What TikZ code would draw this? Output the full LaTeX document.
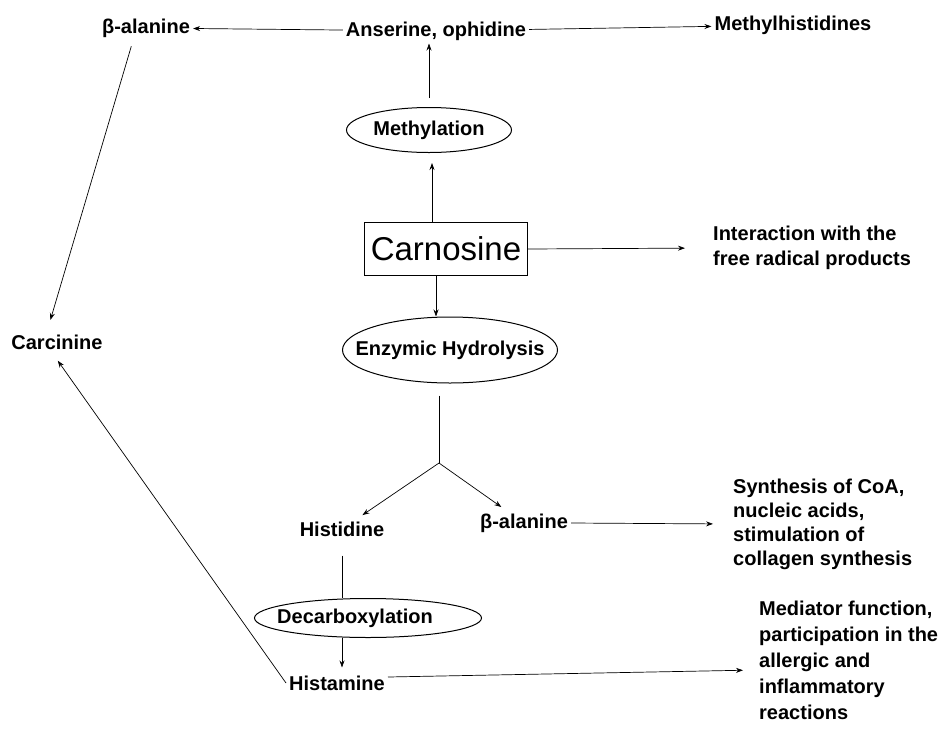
\documentclass[tikz,border=0pt]{standalone}
\usepackage{fontspec}
\setmainfont{Liberation Sans}
\usepackage{tikz}
\usetikzlibrary{arrows.meta,shapes.geometric}

\begin{document}
\begin{tikzpicture}[x=1pt,y=-1pt,
	every node/.style={font=\bfseries\fontsize{20}{24}\selectfont,inner sep=3pt},
	oval/.style={ellipse,draw,line width=1pt,inner sep=0pt},
	box/.style={rectangle,draw,line width=1pt,minimum width=163,minimum height=53,font=\fontsize{33}{36}\selectfont},
	note/.style={align=left,anchor=west},
	every edge/.style={draw,line width=0.7pt,-{Stealth[length=7pt,width=5pt]}}]
			\useasboundingbox (0,0) rectangle (940,729);
			\node (bala1) at (146,28) {β-alanine};
			\node (ans) at (436,31) {Anserine, ophidine};
			\node (mhis) at (793,25) {Methylhistidines};
			\node[oval,minimum width=165,minimum height=45,label=center:Methylation] (meth) at (429,130) {};
			\node[box] (carn) at (446,249) {Carnosine};
			\node[note,font=\bfseries\fontsize{20}{25}\selectfont] (inter) at (710,248) {Interaction with the\\free radical products};
			\node[oval,minimum width=215,minimum height=66,label=center:Enzymic Hydrolysis] (hydro) at (450,350) {};
			\coordinate (fork) at (439,463);
			\node (carc) at (57,342) {Carcinine};
			\node (hist) at (342,529) {Histidine};
			\node (bala2) at (524,523) {β-alanine};
			\node[note] (synth) at (730,524) {Synthesis of CoA,\\nucleic acids,\\stimulation of\\collagen synthesis};
			\node[oval,minimum width=227,minimum height=39,label={[xshift=-13pt]center:Decarboxylation}] (decarb) at (368,618) {};
			\node (hstm) at (337,683) {Histamine};
			\node[note,font=\bfseries\fontsize{20}{26}\selectfont] (medi) at (756,660) {Mediator function,\\participation in the\\allergic and\\inflammatory\\reactions};
			
			\path (ans) edge (bala1);
			\path (ans) edge (mhis);
			\path (meth.north) edge[shorten <=9pt] (meth.north |- ans.south);
			\path ([xshift=-14pt]carn.north) edge[shorten >=10pt] ([xshift=-14pt]carn.north |- meth.south);
			\path ([xshift=-10pt]carn.south) edge ([xshift=-10pt]carn.south |- hydro.north);
			\path (carn.east) edge[shorten >=25pt] (inter.west);
			\path (hydro.south -| fork) edge[-,shorten <=12pt] (fork);
			\path (fork) edge[shorten >=6pt] (hist);
			\path (fork) edge[shorten >=6pt] (bala2);
			\path (bala2.east) edge[shorten >=17pt] (synth.west);
			\path (hist) edge[-,shorten <=16pt] (hist |- decarb.north);
			\path ([xshift=-26pt]decarb.south) edge[shorten >=5pt] ([xshift=-26pt]decarb.south |- hstm.north);
			\path ([yshift=6pt]hstm.east) edge[shorten >=13pt] ([yshift=-10pt]medi.west);
			\path ([xshift=-13pt]bala1.south) edge[shorten <=6pt,shorten >=12pt] ([xshift=-10pt]carc.north);
			\path (hstm.west) edge[shorten >=10pt] ([xshift=-5pt]carc.south);
		\end{tikzpicture}
\end{document}
